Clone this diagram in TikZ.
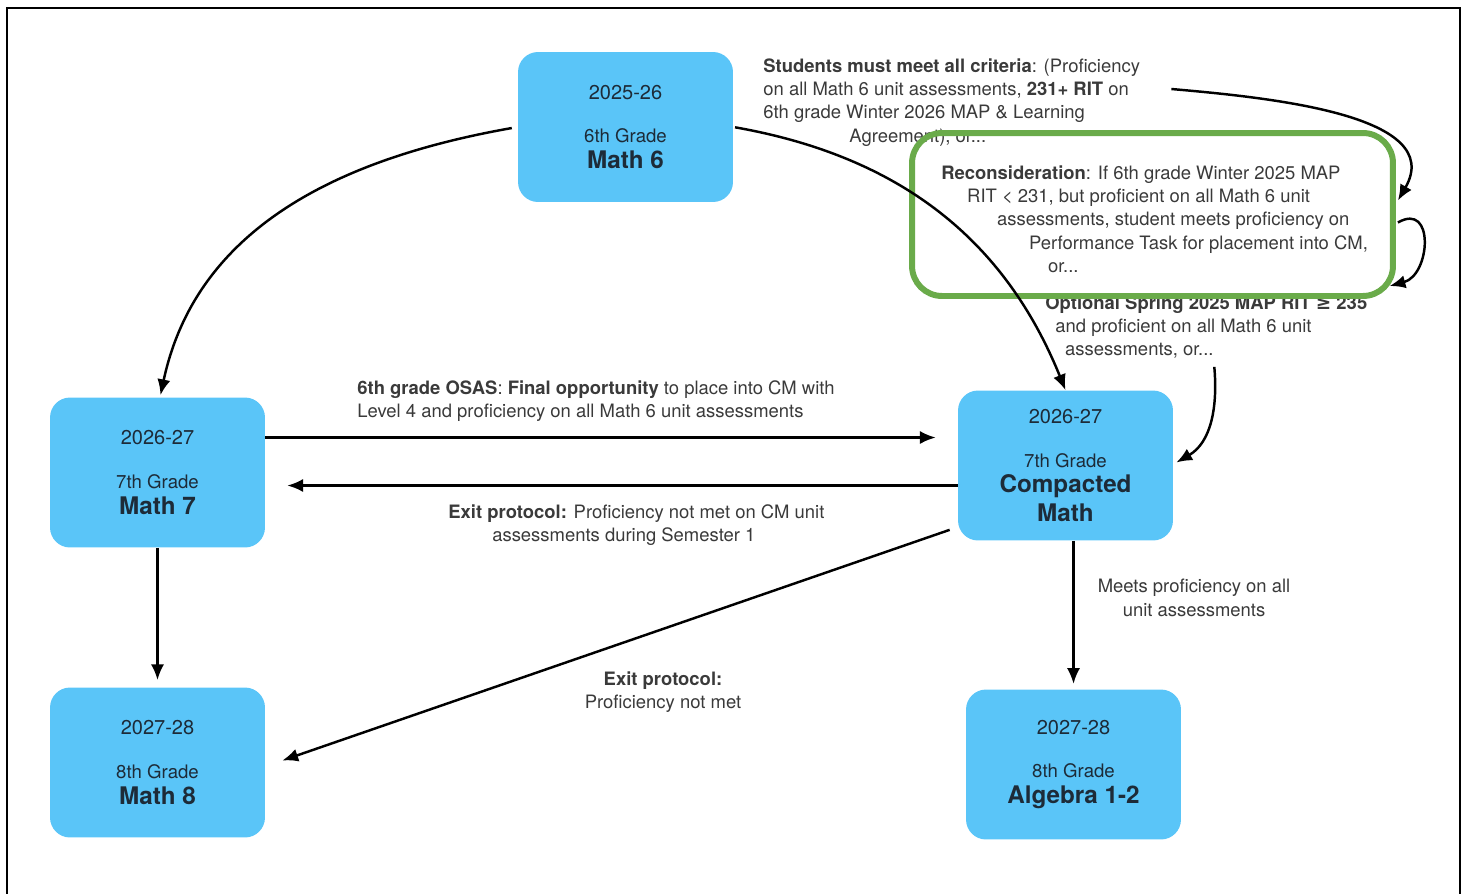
\documentclass[tikz,border=0pt]{standalone}
\usepackage{fontspec}
\setmainfont{TeX Gyre Heros}
\newfontfamily\symfont{DejaVu Sans}
\usetikzlibrary{arrows.meta, positioning, calc}

\definecolor{courseblue}{HTML}{5AC5F8}
\definecolor{coursetext}{HTML}{1D2B38}
\definecolor{labelgray}{HTML}{3A3A3A}
\definecolor{recongreen}{HTML}{6AAB4A}

\begin{document}
\begin{tikzpicture}[x=0.02cm, y=0.02cm,
  course/.style={rectangle, rounded corners=0.4cm, fill=courseblue, text=coursetext, minimum width=4.3cm, minimum height=3cm, align=center, font=\fontsize{10.6}{14.7}\selectfont},
  lbl/.style={inner sep=0pt, text=labelgray, font=\fontsize{10.5}{13.3}\selectfont},
  arr/.style={-{Latex[length=9pt,width=7.5pt]}, line width=1.4pt}]

\useasboundingbox (0,0) rectangle (1467,-893);
\draw[line width=1.2pt] (7,-900) -- (7,-8) -- (1460,-8) -- (1460,-900);

% Kurse
\node[course] (m6) at (625.5,-127) {{\fontsize{11.4}{13}\selectfont 2025-26}\\[10.2pt] 6th Grade\\ {\fontsize{13.8}{15}\selectfont\bfseries Math 6}};
\node[course] (m7) at (157.5,-472.5) {{\fontsize{11.4}{13}\selectfont 2026-27}\\[10.2pt] 7th Grade\\ {\fontsize{13.8}{15}\selectfont\bfseries Math 7}};
\node[course] (cm) at (1065.5,-465.5) {{\fontsize{11.4}{13}\selectfont 2026-27}\\[10.2pt] 7th Grade\\ {\fontsize{13.8}{15}\selectfont\bfseries Compacted}\\[1.7pt] {\fontsize{13.8}{15}\selectfont\bfseries Math}};
\node[course] (m8) at (157.5,-762.5) {{\fontsize{11.4}{13}\selectfont 2027-28}\\[10.2pt] 8th Grade\\ {\fontsize{13.8}{15}\selectfont\bfseries Math 8}};
\node[course] (alg) at (1073.5,-764.5) {{\fontsize{11.4}{13}\selectfont 2027-28}\\[10.2pt] 8th Grade\\ {\fontsize{13.8}{15}\selectfont\bfseries Algebra 1-2}};

% Kriterien
\node[lbl, anchor=north west, align=left] (crit) at (763,-58) {\textbf{Students must meet all criteria}: (Proficiency\\ on all Math 6 unit assessments, \textbf{231+ RIT} on\\ 6th grade Winter 2026 MAP \& Learning\\ \hspace*{49pt}Agreement), or...};
\node[lbl, anchor=north west, align=left] (recontext) at (941,-165) {\textbf{Reconsideration}: If 6th grade Winter 2025 MAP\\ \hspace*{14.7pt}RIT < 231, but proficient on all Math 6 unit\\ \hspace*{31.7pt}assessments, student meets proficiency on\\ \hspace*{49.9pt}Performance Task for placement into CM,\\ \hspace*{60.7pt}or...};
\node[lbl, anchor=north west, align=left] (optional) at (1045,-295) {\textbf{Optional Spring 2025 MAP RIT {\symfont ≥} 235}\\ \hspace*{5.7pt}and proficient on all Math 6 unit\\ \hspace*{11.3pt}assessments, or...};
\node[lbl, anchor=north west, align=left] (osas) at (357,-380) {\textbf{6th grade OSAS}: \textbf{Final opportunity} to place into CM with\\ Level 4 and proficiency on all Math 6 unit assessments};
\node[lbl, anchor=north west, align=left] (exitsem) at (448,-504) {\textbf{Exit protocol:} Proficiency not met on CM unit\\ \hspace*{25pt}assessments during Semester 1};
\node[lbl, anchor=north, align=center] (meets) at (1194,-579) {Meets proficiency on all\\ unit assessments};
\node[lbl, anchor=north, align=center] (exitcm) at (663,-671) {\textbf{Exit protocol:}\\ Proficiency not met};

% Rahmen Reconsideration
\node[draw=recongreen, line width=3.4pt, rounded corners=0.6cm, minimum width=9.62cm, minimum height=3.26cm] (recon) at (1152.5,-214.5) {};

% Pfeile
\draw[arr, shorten <=3.4pt] (m6.west) to[out=190, in=78] ([shift={(3,2)}]m7.north);
\draw[arr, shorten <=1pt] (m6.east) to[out=-10, in=112] (cm.north);
\draw[arr] ([shift={(31,-31)}]crit.north east) to[out=-5, in=60] ([shift={(2,14)}]recon.east);
\draw[arr] ([shift={(2,-8)}]recon.east) to[out=30, in=15, looseness=1.7] ([shift={(22,9)}]optional.north east);
\draw[arr] ([shift={(8,-8)}]optional.south) to[out=-85, in=30] ([shift={(3,3)}]cm.east);
\draw[arr, shorten >=12.5pt] ([shift={(0,35)}]m7.east) -- ([shift={(0,35)}]m7.east -| cm.west);
\draw[arr, shorten >=12.5pt] ([shift={(0,-20)}]cm.west) -- ([shift={(0,-20)}]cm.west -| m7.east);
\draw[arr] ([shift={(-8,11)}]cm.south west) -- ([shift={(17,2)}]m8.east);
\draw[arr, shorten >=4pt] (m7.south) -- (m8.north);
\draw[arr, shorten >=3pt] (cm.south -| alg.north) -- (alg.north);

\end{tikzpicture}
\end{document}
